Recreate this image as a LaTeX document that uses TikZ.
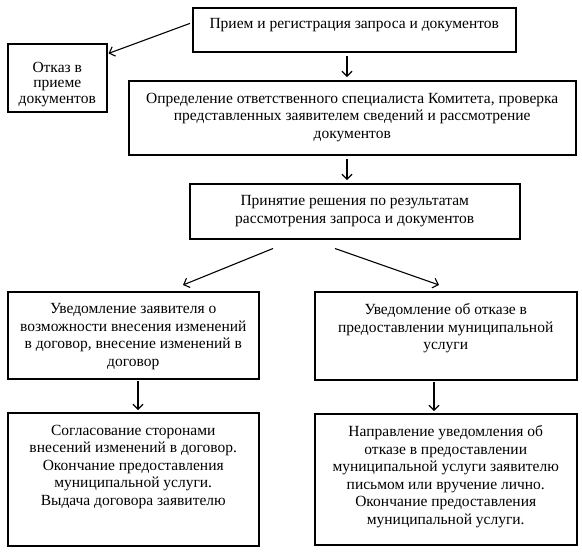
\documentclass[tikz,border=0pt]{standalone}
\usepackage{fontspec}
\setmainfont{Liberation Serif}
\usetikzlibrary{arrows.meta,calc}
\newcommand\cell[4]{\parbox[c][#2][t]{#1}{\centering\vspace*{#3}#4\par}}
\begin{document}
\begin{tikzpicture}[x=1pt,y=-1pt,
  box/.style={draw, line width=1.5pt, inner sep=0pt, anchor=north west, font=\fontsize{15.5}{17.5}\selectfont},
  arr/.style={line width=1.1pt, -{Straight Barb[length=5pt,width=10pt,line width=1.1pt]}}]
\useasboundingbox (0,0) rectangle (582,552);
\node[box] (b1) at (192,7) {\cell{323pt}{44pt}{11pt}{Прием и регистрация запроса и документов}};
\node[box, font=\fontsize{15.5}{15.5}\selectfont] (otk) at (7,43) {\cell{99pt}{68pt}{18pt}{Отказ в\\приеме\\документов}};
\node[box] (b2) at (128,80) {\cell{447pt}{74pt}{12pt}{Определение ответственного специалиста Комитета, проверка\\представленных заявителем сведений и рассмотрение\\документов}};
\node[box] (b3) at (189,183) {\cell{330pt}{55pt}{12pt}{Принятие решения по результатам\\рассмотрения запроса и документов}};
\node[box] (b4) at (7,291) {\cell{251pt}{87pt}{12pt}{Уведомление заявителя о\\возможности внесения изменений\\в договор, внесение изменений в\\договор}};
\node[box] (b5) at (314,291) {\cell{262pt}{88pt}{12pt}{Уведомление об отказе в\\предоставлении муниципальной\\услуги}};
\node[box] (b6) at (7,412) {\cell{251pt}{133pt}{12pt}{Согласование сторонами\\внесений изменений в договор.\\Окончание предоставления\\муниципальной услуги.\\Выдача договора заявителю}};
\node[box] (b7) at (314,413) {\cell{262pt}{131pt}{12pt}{Направление уведомления об\\отказе в предоставлении\\муниципальной услуги заявителю\\письмом или вручение лично.\\Окончание предоставления\\муниципальной услуги.}};
% helper coordinates
\coordinate (xa) at (347,0);
\coordinate (xl) at (138,0);
\coordinate (xr) at (434,0);
\draw[arr] ($(b1.north west)!0.36!(b1.south west)+(-2,0)$) -- ($(otk.north east)!0.15!(otk.south east)+(1,0)$);
\draw[arr, shorten <=3pt, shorten >=3pt] (b1.south -| xa) -- (b2.north -| xa);
\draw[arr, shorten <=3pt, shorten >=3pt] (b2.south -| xa) -- (b3.north -| xa);
\draw[arr] ($(b3.south west)+(84,9)$) -- ($(b4.north west)+(176,-6)$);
\draw[arr] ($(b3.south west)+(146,9)$) -- ($(b5.north west)+(125,-6)$);
\draw[arr, shorten <=1pt, shorten >=2pt] (b4.south -| xl) -- (b6.north -| xl);
\draw[arr, shorten <=1pt, shorten >=2pt] (b5.south -| xr) -- (b7.north -| xr);
\end{tikzpicture}
\end{document}
